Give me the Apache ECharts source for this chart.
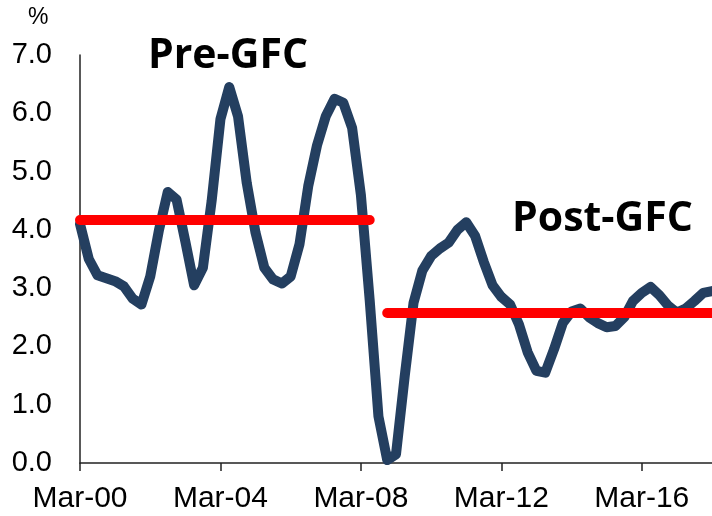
<!DOCTYPE html>
<html>
<head>
<meta charset="utf-8">
<script src="https://cdn.jsdelivr.net/npm/echarts@6/dist/echarts.min.js"></script>
<style>
  html, body { margin: 0; padding: 0; background: #fff; }
  #myChart { width: 712px; height: 516px; }
</style>
</head>
<body>
<div id="myChart"></div>
<script>
// quarters Mar-00 .. Mar-18
var months = ['Mar', 'Jun', 'Sep', 'Dec'];
var years = ['00', '01', '02', '03', '04', '05', '06', '07', '08', '09',
  '10', '11', '12', '13', '14', '15', '16', '17', '18'];
var quarters = [];
years.forEach(function (y) {
  months.forEach(function (m) {
    if (quarters.length < 73) quarters.push(m + '-' + y);
  });
});

// % growth
var growth = [
  4.10, 3.50, 3.22, 3.17, 3.12, 3.03, 2.82, 2.72, 3.20, 4.00,
  4.65, 4.52, 3.80, 3.05, 3.35, 4.50, 5.90, 6.45, 5.95, 4.80,
  3.95, 3.35, 3.15, 3.08, 3.20, 3.75, 4.75, 5.45, 5.95, 6.25,
  6.18, 5.75, 4.60, 2.80, 0.80, 0.05, 0.15, 1.50, 2.75, 3.30,
  3.55, 3.68, 3.78, 4.00, 4.13, 3.90, 3.45, 3.05, 2.85, 2.72,
  2.38, 1.90, 1.58, 1.55, 1.95, 2.40, 2.60, 2.65, 2.50, 2.40,
  2.33, 2.35, 2.50, 2.78, 2.92, 3.02, 2.88, 2.70, 2.58, 2.65,
  2.78, 2.92, 2.95
];

// period averages (red lines)
var preGfc = { from: 'Mar-00', to: 'Jun-08', value: 4.18 };
var postGfc = { from: 'Dec-08', to: 'Mar-18', value: 2.57 };

var yTicks = { min: 0, max: 7, step: 1 };

var myChart = echarts.init(document.getElementById('myChart'));
var axisFont = 'Liberation Sans, Arial, sans-serif';

var option = {
  animation: false,
  grid: { left: 80, right: 0, top: 55, bottom: 53 },
  xAxis: {
    type: 'category',
    boundaryGap: false,
    data: quarters,
    axisLine: { lineStyle: { color: '#222', width: 1.5 } },
    axisTick: { interval: 15, length: 8, lineStyle: { color: '#222', width: 1.5 } },
    axisLabel: {
      interval: 15,
      margin: 21,
      color: '#000',
      fontSize: 30,
      fontFamily: axisFont
    },
    splitLine: { show: false }
  },
  yAxis: {
    type: 'value',
    min: yTicks.min,
    max: yTicks.max,
    interval: yTicks.step,
    axisLine: { show: true, lineStyle: { color: '#222', width: 1.5 } },
    axisTick: { show: false },
    axisLabel: {
      margin: 28,
      color: '#000',
      fontSize: 29,
      fontFamily: axisFont,
      formatter: function (v) { return v.toFixed(1); }
    },
    splitLine: { show: false }
  },
  graphic: [
    {
      type: 'text', left: 28, top: 6,
      style: { text: '%', fontSize: 23, fontFamily: axisFont, fill: '#000' }
    },
    {
      type: 'text', left: 148, top: 36,
      style: { text: 'Pre-GFC', fontSize: 41, fontWeight: 'bold', fontFamily: 'Open Sans', fill: '#000' }
    },
    {
      type: 'text', left: 512, top: 199,
      style: { text: 'Post-GFC', fontSize: 41, fontWeight: 'bold', fontFamily: 'Open Sans', fill: '#000' }
    }
  ],
  series: [
    {
      name: 'growth',
      type: 'line',
      data: growth,
      showSymbol: false,
      clip: true,
      z: 3,
      lineStyle: { color: '#243F60', width: 10, join: 'round', cap: 'round' },
      markLine: {
        silent: true,
        symbol: 'none',
        z: 4,
        label: { show: false },
        lineStyle: { color: '#FF0000', width: 10, type: 'solid', cap: 'round' },
        data: [
          [{ coord: [preGfc.from, preGfc.value] }, { coord: [preGfc.to, preGfc.value] }],
          [{ coord: [postGfc.from, postGfc.value] }, { coord: [postGfc.to, postGfc.value] }]
        ]
      }
    }
  ]
};
myChart.setOption(option);
</script>
</body>
</html>
